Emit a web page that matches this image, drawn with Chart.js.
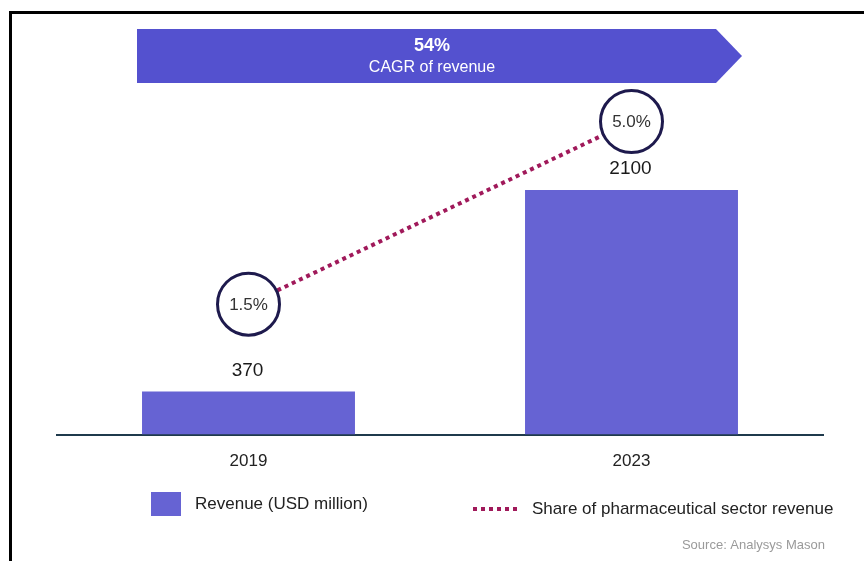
<!DOCTYPE html>
<html>
<head>
<meta charset="utf-8">
<script src="https://cdn.jsdelivr.net/npm/chart.js@4"></script>
<style>
  html, body { margin: 0; padding: 0; background: #fff; overflow: hidden; }
  #wrap { position: relative; width: 864px; height: 561px; }
  #frame {
    position: absolute; left: 9px; top: 11px; width: 900px; height: 600px;
    border-top: 3px solid #000; border-left: 3px solid #000; pointer-events: none;
  }
</style>
</head>
<body>
<div id="wrap">
  <canvas id="grafico" width="864" height="561"></canvas>
  <div id="frame"></div>
</div>
<script>
const years = ['2019', '2023'];
const revenue = [370, 2100];          // USD million
const pharmaShare = [1.5, 5.0];       // % of pharmaceutical sector revenue
const cagrValue = '54%';
const cagrLabel = 'CAGR of revenue';
const revenueLabel = 'Revenue (USD million)';
const shareLabel = 'Share of pharmaceutical sector revenue';
const sourceNote = 'Source: Analysys Mason';

const FONT = '"Liberation Sans", Arial, sans-serif';
const BAR_COLOR = '#6663D3';
const BANNER_COLOR = '#5451CF';
const LINE_COLOR = '#A0195A';
const RING_COLOR = '#1E1A4D';

// flecha de CAGR, etiquetas de valor, leyenda y fuente
const extras = {
  id: 'extras',
  afterDatasetsDraw(chart) {
    const ctx = chart.ctx;
    ctx.save();

    // banner
    ctx.fillStyle = BANNER_COLOR;
    ctx.beginPath();
    ctx.moveTo(137, 29);
    ctx.lineTo(716, 29);
    ctx.lineTo(742, 56);
    ctx.lineTo(716, 83);
    ctx.lineTo(137, 83);
    ctx.closePath();
    ctx.fill();
    ctx.fillStyle = '#fff';
    ctx.textAlign = 'center';
    ctx.textBaseline = 'middle';
    ctx.font = 'bold 18px ' + FONT;
    ctx.fillText(cagrValue, 432, 46);
    ctx.font = '16px ' + FONT;
    ctx.fillText(cagrLabel, 432, 68);

    // valores sobre las barras
    const bars = chart.getDatasetMeta(0).data;
    ctx.fillStyle = '#1a1a1a';
    ctx.font = '19px ' + FONT;
    bars.forEach((b, i) => {
      ctx.fillText(String(revenue[i]), b.x - 1, b.y - 21);
    });

    // porcentajes dentro de los círculos
    const pts = chart.getDatasetMeta(1).data;
    ctx.fillStyle = '#333';
    ctx.font = '17px ' + FONT;
    pts.forEach((p, i) => {
      ctx.fillText(pharmaShare[i].toFixed(1) + '%', p.x, p.y + 1);
    });

    // leyenda
    ctx.textAlign = 'left';
    ctx.fillStyle = BAR_COLOR;
    ctx.fillRect(151, 492, 30, 24);
    ctx.fillStyle = '#222';
    ctx.font = '17px ' + FONT;
    ctx.fillText(revenueLabel, 195, 504);

    ctx.strokeStyle = LINE_COLOR;
    ctx.lineWidth = 4;
    ctx.setLineDash([4, 4]);
    ctx.beginPath();
    ctx.moveTo(473, 509);
    ctx.lineTo(521, 509);
    ctx.stroke();
    ctx.setLineDash([]);
    ctx.fillText(shareLabel, 532, 509);

    ctx.textAlign = 'right';
    ctx.fillStyle = '#9a9a9a';
    ctx.font = '13px ' + FONT;
    ctx.fillText(sourceNote, 825, 545);

    ctx.restore();
  }
};

const ctx = document.getElementById('grafico').getContext('2d');

new Chart(ctx, {
  data: {
    labels: years,
    datasets: [{
      type: 'bar',
      label: revenueLabel,
      data: revenue,
      yAxisID: 'y',
      backgroundColor: BAR_COLOR,
      barPercentage: 0.556,
      categoryPercentage: 1.0,
      order: 2
    }, {
      type: 'line',
      label: shareLabel,
      data: pharmaShare,
      yAxisID: 'y2',
      borderColor: LINE_COLOR,
      borderWidth: 4,
      borderDash: [4, 4],
      borderCapStyle: 'butt',
      pointRadius: 31,
      pointBackgroundColor: '#fff',
      pointBorderColor: RING_COLOR,
      pointBorderWidth: 3,
      clip: false,
      order: 1
    }]
  },
  options: {
    responsive: false,
    animation: false,
    layout: {
      padding: { left: 57, right: 41, top: 85, bottom: 72 }
    },
    plugins: {
      legend: { display: false },
      tooltip: { enabled: false }
    },
    scales: {
      x: {
        grid: { display: false, drawTicks: false },
        border: { display: true, color: '#1F3A4C', width: 2 },
        ticks: {
          color: '#222',
          padding: 17,
          font: { family: FONT, size: 17 }
        }
      },
      y: {
        display: false,
        min: 0,
        max: 3000
      },
      y2: {
        display: false,
        min: -1,
        max: 5.7
      }
    }
  },
  plugins: [extras]
});
</script>
</body>
</html>
